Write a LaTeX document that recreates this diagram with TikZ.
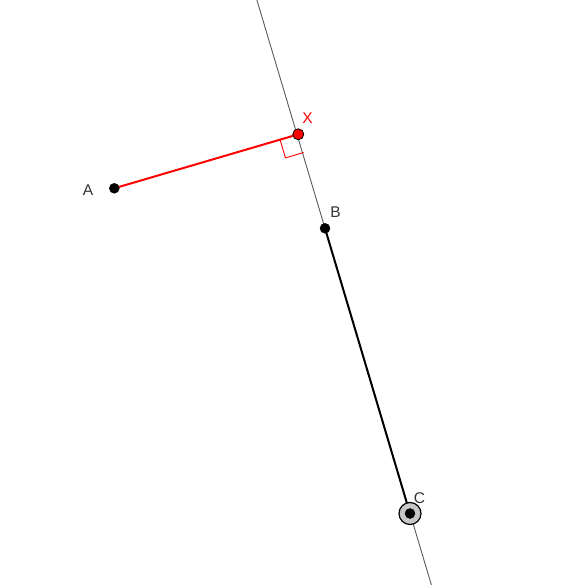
\documentclass[tikz,border=0pt]{standalone}
\usepackage{fontspec}
\setmainfont{Liberation Sans}
\usetikzlibrary{calc}

\begin{document}
\begin{tikzpicture}[x=1pt, y=-1pt, font=\fontsize{15.5}{18}\selectfont,
    pt/.style={circle, draw=black, fill=black, inner sep=0pt, minimum size=10pt}]
        \useasboundingbox (0,0) rectangle (580,585);
        \coordinate (A) at (114.3,188.3);
        \coordinate (X) at (298.3,134.3);
        \coordinate (B) at (325,228.3);
        \coordinate (C) at (410,513.5);
        \coordinate (top) at (256.9,0);
        \coordinate (bot) at (431.4,585);

        \draw[black!65, line width=0.9pt] (top) -- (bot);

        % right angle at X
        \coordinate (ra) at ($(X)!19pt!(A)$);
        \coordinate (rb) at ($(X)!19pt!(C)$);
        \draw[red, line width=0.9pt] (ra) -- ($(ra)+(rb)-(X)$) -- (rb);

        \draw[red, line width=2pt] (A) -- (X);
        \draw[black, line width=2pt] (B) -- (C);

        \node[circle, draw=black, fill=black!22, line width=1.2pt, inner sep=0pt, minimum size=22pt] (Cring) at (C) {};
        \node[pt] (nA) at (A) {};
        \node[pt] (nB) at (B) {};
        \node[pt] (nC) at (C) {};
        \node[pt, fill=red, minimum size=11pt, line width=0.8pt] (nX) at (X) {};

        \node[text=black!80] (lA) at (88,190) {A};
        \node[text=red] (lX) at (307.5,118) {X};
        \node[text=black!80] (lB) at (335.5,212) {B};
        \node[text=black!80] (lC) at (419.5,498) {C};
    \end{tikzpicture}
\end{document}
